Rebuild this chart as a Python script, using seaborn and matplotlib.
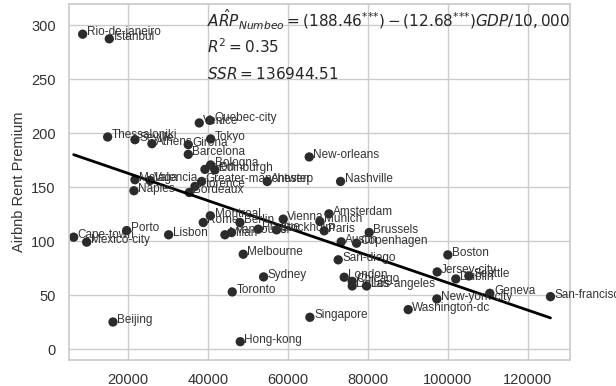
import numpy as np
import pandas as pd
import matplotlib.pyplot as plt
import seaborn as sns

# valeurs (PIB par habitant, prime de loyer Airbnb)
villes = ['Rio-de-janeiro', 'Istanbul', 'Venice', 'Quebec-city', 'Thessaloniki', 'Seville',
          'Athens', 'Girona', 'Tokyo', 'Barcelona', 'Lyon', 'Bologna', 'Edinburgh',
          'Malaga', 'Valencia', 'Naples', 'Greater-manchester', 'Florence', 'Bordeaux',
          'Antwerp', 'New-orleans', 'Nashville', 'Montreal', 'Rome', 'Berlin', 'Vienna',
          'Amsterdam', 'Munich', 'Paris', 'Stockholm', 'Prague', 'Lisbon', 'Milan',
          'Vancouver', 'Austin', 'Copenhagen', 'Brussels', 'San-diego', 'Melbourne',
          'Sydney', 'Toronto', 'London', 'Chicago', 'Dallas', 'Los-angeles', 'Singapore',
          'Hong-kong', 'Boston', 'Jersey-city', 'Dublin', 'Seattle', 'New-york-city',
          'Washington-dc', 'Geneva', 'San-francisco', 'Cape-town', 'Mexico-city', 'Porto',
          'Beijing']
pib = [8670, 15330, 37830, 40500, 14920, 21750,
       26000, 35080, 40670, 35080, 39250, 40670, 41750,
       21750, 25500, 21500, 38420, 36750, 35330,
       54830, 65330, 73170, 40600, 38830, 48000, 58830,
       70250, 68000, 69080, 57170, 52580, 30170, 44250,
       45900, 73330, 77170, 80330, 72580, 48830,
       53920, 46080, 74080, 76080, 76080, 79670, 65500,
       48080, 100000, 97330, 102000, 105250, 97250,
       90080, 110500, 125670, 6420, 9670, 19670,
       16250]
arp = [291.9, 287.6, 209.7, 212.1, 196.7, 194.2,
       190.5, 189.6, 194.9, 180.6, 166.7, 170.8, 166.2,
       157.1, 156.4, 146.9, 155.5, 150.9, 145.3,
       155.5, 178.2, 155.5, 123.7, 117.5, 117.5, 120.6,
       125.5, 118.4, 109.8, 110.7, 111.3, 106.1, 106.1,
       108.2, 99.6, 98.3, 108.2, 82.9, 88.1,
       67.1, 53.2, 66.8, 63.0, 58.7, 58.7, 29.7,
       7.1, 87.5, 71.7, 65.2, 68.0, 46.7,
       36.8, 51.9, 48.8, 103.9, 99.3, 110.0,
       25.3]

# coefficients de la regression (texte du graphique)
intercept = 188.46
pente = -12.68

df = pd.DataFrame({'ville': villes, 'gdp': pib, 'arp': arp})

sns.set_theme(style='whitegrid')
plt.rcParams['font.family'] = ['Liberation Sans', 'DejaVu Sans']

fig, ax = plt.subplots(figsize=(6.16, 3.86), dpi=100)
fig.subplots_adjust(left=0.112, right=0.925, top=0.99, bottom=0.067)

sns.scatterplot(data=df, x='gdp', y='arp', color='#2b2b2b', s=45, edgecolor='none', ax=ax)

# droite de regression
x_fit = np.array([df['gdp'].min(), df['gdp'].max()])
y_fit = intercept + pente * x_fit / 10000
sns.lineplot(x=x_fit, y=y_fit, color='black', linewidth=2, ax=ax)

for _, r in df.iterrows():
    ax.annotate(r['ville'], (r['gdp'], r['arp']), xytext=(3, 1.5), textcoords='offset points',
                fontsize=8.5, color='#333333', va='center', ha='left')

ax.text(39700, 305, r'$\hat{ARP}_{Numbeo} = (188.46^{\text{***}}) - (12.68^{\text{***}})GDP/10,000$',
        fontsize=11, va='center', ha='left')
ax.text(39700, 280, r'$R^2 = 0.35$', fontsize=11, va='center', ha='left')
ax.text(39700, 255, r'$SSR = 136944.51$', fontsize=11, va='center', ha='left')

ax.set_xlim(5250, 130500)
ax.set_ylim(-10, 320)
ax.set_xticks([20000, 40000, 60000, 80000, 100000, 120000])
ax.set_yticks([0, 50, 100, 150, 200, 250, 300])
ax.tick_params(labelsize=10.5, colors='#333333')
ax.set_xlabel('')
ax.set_ylabel('Airbnb Rent Premium', fontsize=10.5, color='#333333')

plt.savefig('out.png', dpi=100)
plt.close()
